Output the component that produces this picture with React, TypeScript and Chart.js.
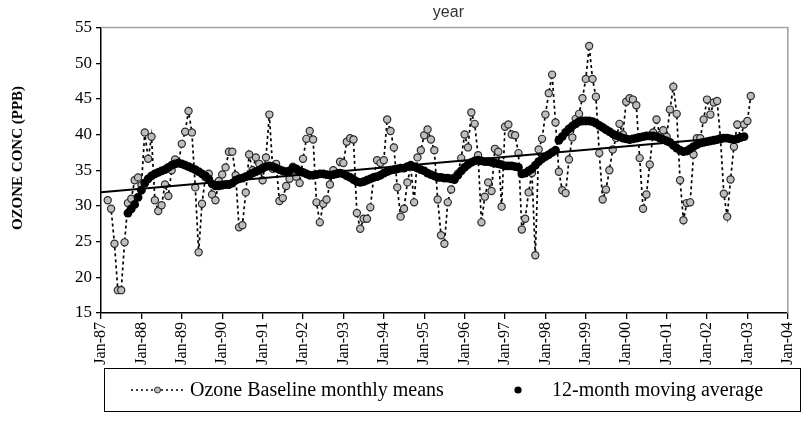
import { useEffect, useRef } from "react";
import { Chart, registerables } from "chart.js";

Chart.register(...registerables);

// ---------------- data ----------------
const xTickLabels = [
  "Jan-87", "Jan-88", "Jan-89", "Jan-90", "Jan-91", "Jan-92", "Jan-93", "Jan-94", "Jan-95",
  "Jan-96", "Jan-97", "Jan-98", "Jan-99", "Jan-00", "Jan-01", "Jan-02", "Jan-03", "Jan-04",
];
const yMin = 15;
const yMax = 55;
const yStep = 5;

// months counted from Jan-87 (0)
const monthlyStartMonth = 2; // Mar-87
const monthlyMeans = [
  30.8, 29.6, 24.7, 18.2, 18.2, 24.9, 30.4, 31.0, 33.6, 34.0,
  32.9, 40.3, 36.6, 39.7, 30.8, 29.3, 30.1, 33.0, 31.4, 35.0, 36.5, 36.0,
  38.7, 40.4, 43.3, 40.3, 32.6, 23.5, 30.3, 34.0, 34.5, 31.6, 30.8, 33.5,
  34.4, 35.4, 37.6, 37.6, 34.3, 27.0, 27.3, 31.9, 37.2, 35.0, 36.8, 35.9,
  33.6, 36.8, 42.8, 35.2, 35.9, 30.7, 31.1, 32.8, 33.8, 35.5, 34.1, 33.2,
  36.6, 39.4, 40.5, 39.3, 30.5, 27.7, 30.3, 30.9, 33.0, 35.0, 34.5, 36.2,
  36.0, 39.0, 39.5, 39.3, 29.0, 26.8, 28.2, 28.2, 29.8, 34.0, 36.4, 36.0,
  36.4, 42.1, 40.5, 38.2, 32.6, 28.5, 29.6, 33.3, 35.5, 30.5, 36.8, 37.8,
  39.9, 40.7, 39.3, 37.8, 30.9, 25.9, 24.7, 30.5, 32.3, 34.0, 34.5, 36.7,
  40.0, 38.2, 43.1, 41.5, 37.1, 27.7, 31.3, 33.3, 32.1, 38.0, 37.6, 29.9,
  41.1, 41.4, 40.0, 39.9, 37.4, 26.7, 28.2, 31.9, 34.6, 23.1, 37.9, 39.4,
  42.8, 45.8, 48.4, 41.7, 34.8, 32.2, 31.8, 36.5, 39.6, 42.2, 42.9, 45.1,
  47.8, 52.4, 47.8, 45.3, 37.4, 30.9, 32.3, 35.0, 37.9, 39.5, 41.5, 40.0,
  44.6, 45.1, 44.9, 44.1, 36.7, 29.6, 31.6, 35.8, 40.3, 42.1, 39.9, 40.6,
  39.7, 43.5, 46.7, 42.9, 33.6, 28.0, 30.4, 30.5, 37.2, 39.5, 39.5, 42.1,
  44.9, 42.8, 44.5, 44.7, 39.5, 31.7, 28.5, 33.7, 38.3, 41.4, 39.6, 41.4,
  41.9, 45.4,
];

const movingAvgStartMonth = 8; // Sep-87
const movingAverage = [
  29.0, 29.6, 30.2, 31.2,
  32.2, 33.2, 33.8, 34.2, 34.5, 34.7, 34.9, 35.1, 35.4, 35.7, 35.9, 36.0,
  35.9, 35.7, 35.5, 35.3, 35.1, 34.8, 34.5, 34.2, 33.8, 33.1, 32.8, 32.8,
  32.9, 33.0, 33.0, 33.2, 33.6, 33.8, 33.9, 34.1, 34.3, 34.6, 34.8, 35.0,
  35.3, 35.5, 35.6, 35.5, 35.3, 35.1, 34.9, 34.8, 34.9, 35.3, 35.2, 34.9,
  34.7, 34.5, 34.3, 34.3, 34.4, 34.5, 34.5, 34.4, 34.3, 34.4, 34.5, 34.6,
  34.5, 34.2, 34.0, 33.7, 33.4, 33.3, 33.4, 33.6, 33.8, 34.0, 34.1, 34.3,
  34.6, 34.8, 35.0, 35.1, 35.2, 35.3, 35.3, 35.5, 35.7, 35.5, 35.3, 35.1,
  34.9, 34.6, 34.4, 34.2, 34.0, 34.0, 33.9, 33.9, 33.8, 33.7, 34.3, 34.9,
  35.4, 35.8, 36.1, 36.3, 36.4, 36.3, 36.2, 36.2, 36.1, 36.0, 35.9, 35.8,
  35.6, 35.6, 35.6, 35.5, 35.4, 34.5, 34.6, 34.9, 35.2, 35.7, 36.2, 36.6,
  36.9, 37.2, 37.5, 37.8, 39.2, 39.7, 40.3, 40.8, 41.2, 41.5, 41.8, 41.9,
  41.9, 41.9, 41.8, 41.6, 41.3, 41.0, 40.7, 40.4, 40.1, 39.9, 39.7, 39.5,
  39.4, 39.3, 39.4, 39.5, 39.6, 39.7, 39.8, 39.8, 39.8, 39.7, 39.5, 39.3,
  39.1, 38.9, 38.5, 38.1, 37.8, 37.6, 37.7, 38.0, 38.3, 38.6, 38.8, 38.9,
  39.0, 39.1, 39.2, 39.3, 39.4, 39.5, 39.5, 39.4, 39.3, 39.4, 39.6, 39.7,
];

const trendMonths = [0, 191];
const trendValues = [31.9, 39.8];

const chartTitle = "year";
const yAxisTitle = "OZONE CONC (PPB)";
const legendLabels = ["Ozone Baseline monthly means", "12-month moving average"];

// ---------------- layout / style ----------------
const W = 810;
const H = 438;
const SERIF = "'Liberation Serif', 'Times New Roman', serif";
const SANS = "'Liberation Sans', Arial, sans-serif";
const POINT_FILL = "#bdbdbd";
const POINT_EDGE = "#2b2b2b";

const decorPlugin = {
  id: "decor",
  afterDraw(chart: any) {
    const { ctx, chartArea: a } = chart;
    ctx.save();
    // grey top and right frame
    ctx.strokeStyle = "#a3a3a3";
    ctx.lineWidth = 1.6;
    ctx.beginPath();
    ctx.moveTo(a.left, a.top);
    ctx.lineTo(a.right, a.top);
    ctx.lineTo(a.right, a.bottom);
    ctx.stroke();

    // title
    ctx.fillStyle = "#333";
    ctx.font = `16px ${SANS}`;
    ctx.textAlign = "center";
    ctx.textBaseline = "alphabetic";
    ctx.fillText(chartTitle, (a.left + a.right) / 2 + 4, 17);

    // y axis title
    ctx.save();
    ctx.translate(18, 158);
    ctx.rotate(-Math.PI / 2);
    ctx.fillStyle = "#000";
    ctx.font = `bold 15px ${SERIF}`;
    ctx.textAlign = "center";
    ctx.textBaseline = "middle";
    ctx.fillText(yAxisTitle, 0, 0);
    ctx.restore();

    // legend box
    const bx0 = 104.5, by0 = 368.5, bx1 = 800.5, by1 = 411.5;
    ctx.strokeStyle = "#000";
    ctx.lineWidth = 1;
    ctx.strokeRect(bx0, by0, bx1 - bx0, by1 - by0);
    const cy = 390;

    // item 1: dotted line with grey marker
    ctx.strokeStyle = "#000";
    ctx.lineWidth = 1.5;
    ctx.setLineDash([2, 3]);
    ctx.beginPath();
    ctx.moveTo(131, cy);
    ctx.lineTo(184, cy);
    ctx.stroke();
    ctx.setLineDash([]);
    ctx.beginPath();
    ctx.arc(157.5, cy, 3, 0, Math.PI * 2);
    ctx.fillStyle = POINT_FILL;
    ctx.fill();
    ctx.strokeStyle = POINT_EDGE;
    ctx.lineWidth = 1;
    ctx.stroke();

    ctx.fillStyle = "#000";
    ctx.font = `20px ${SERIF}`;
    ctx.textAlign = "left";
    ctx.textBaseline = "middle";
    ctx.fillText(legendLabels[0], 190, cy + 1);

    // item 2: black dot
    ctx.beginPath();
    ctx.arc(518, cy, 3.6, 0, Math.PI * 2);
    ctx.fillStyle = "#000";
    ctx.fill();
    ctx.fillText(legendLabels[1], 552, cy + 1);

    ctx.restore();
  },
};

export default function App() {
  const canvasRef = useRef<HTMLCanvasElement | null>(null);

  useEffect(() => {
    const canvas = canvasRef.current;
    if (!canvas) return;

    const monthlyData = monthlyMeans.map((v, i) => ({ x: monthlyStartMonth + i, y: v }));
    const maData = movingAverage.map((v, i) => ({ x: movingAvgStartMonth + i, y: v }));
    const trendData = trendMonths.map((m, i) => ({ x: m, y: trendValues[i] }));

    const chart = new Chart(canvas, {
      type: "line",
      data: {
        datasets: [
          {
            label: legendLabels[1],
            data: maData,
            showLine: false,
            pointRadius: 4.4,
            pointBackgroundColor: "#000",
            pointBorderColor: "#000",
            pointBorderWidth: 0,
            order: 0,
          },
          {
            label: "trend",
            data: trendData,
            borderColor: "#000",
            borderWidth: 2,
            pointRadius: 0,
            order: 1,
          },
          {
            label: legendLabels[0],
            data: monthlyData,
            borderColor: "#000",
            borderWidth: 1.7,
            borderDash: [3, 3],
            pointRadius: 3.6,
            pointBackgroundColor: POINT_FILL,
            pointBorderColor: POINT_EDGE,
            pointBorderWidth: 1.2,
            order: 2,
          },
        ],
      },
      options: {
        responsive: false,
        animation: false,
        events: [],
        layout: { padding: { left: 0, right: 12.5, top: 27.5, bottom: 0 } },
        plugins: {
          legend: { display: false },
          tooltip: { enabled: false },
          title: { display: false },
        },
        scales: {
          x: {
            type: "linear",
            min: 0,
            max: (xTickLabels.length - 1) * 12,
            afterFit: (s: any) => {
              s.height = H - 313;
            },
            ticks: {
              stepSize: 12,
              autoSkip: false,
              minRotation: 90,
              maxRotation: 90,
              padding: 3,
              color: "#000",
              font: { family: SERIF, size: 16 },
              callback: (v: any) => xTickLabels[Math.round(Number(v) / 12)] ?? "",
            },
            grid: {
              display: true,
              drawOnChartArea: false,
              drawTicks: true,
              tickLength: 6,
              color: "#000",
              lineWidth: 1.3,
            },
            border: { display: true, color: "#000", width: 1.5 },
          },
          y: {
            type: "linear",
            min: yMin,
            max: yMax,
            afterFit: (s: any) => {
              s.width = 101;
            },
            ticks: {
              stepSize: yStep,
              padding: 4,
              color: "#000",
              font: { family: SERIF, size: 17 },
            },
            grid: {
              display: true,
              drawOnChartArea: false,
              drawTicks: true,
              tickLength: 5,
              color: "#000",
              lineWidth: 1.3,
            },
            border: { display: true, color: "#000", width: 1.5 },
          },
        },
      },
      plugins: [decorPlugin],
    });

    return () => chart.destroy();
  }, []);

  return (
    <div style={{ position: "fixed", left: 0, top: 0, width: W, height: H, background: "#fff" }}>
      <canvas ref={canvasRef} width={W} height={H} style={{ display: "block", width: W, height: H }} />
    </div>
  );
}
